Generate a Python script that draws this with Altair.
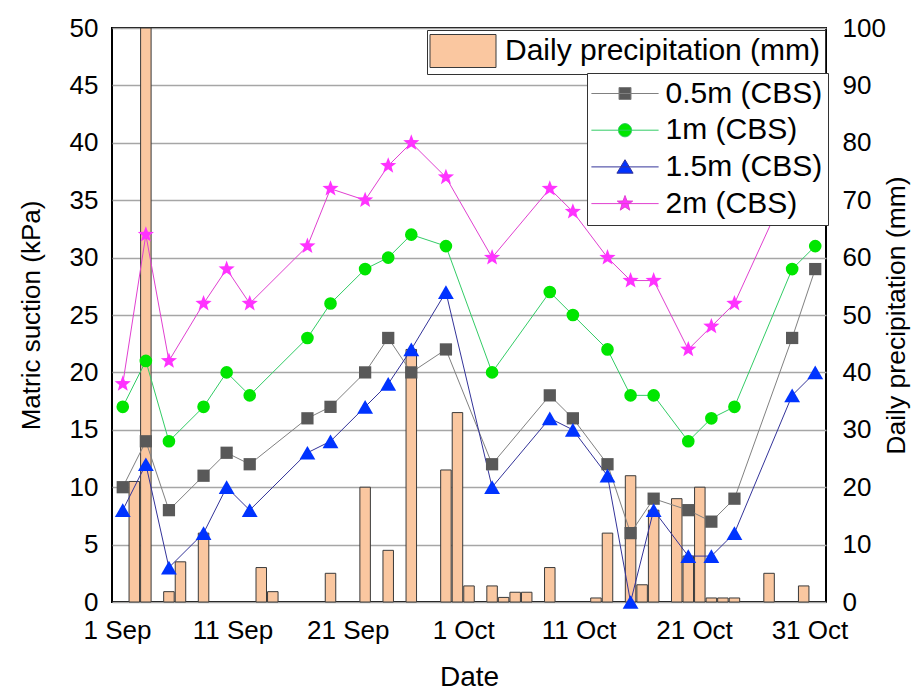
import json
import math

import altair as alt
import pandas as pd

START = pd.Timestamp("2019-09-01")

# Suction readings (kPa) at four depths
reading_dates = [
    "2019-09-01", "2019-09-03", "2019-09-05", "2019-09-08", "2019-09-10",
    "2019-09-12", "2019-09-17", "2019-09-19", "2019-09-22", "2019-09-24",
    "2019-09-26", "2019-09-29", "2019-10-03", "2019-10-08", "2019-10-10",
    "2019-10-13", "2019-10-15", "2019-10-17", "2019-10-20", "2019-10-22",
    "2019-10-24", "2019-10-29", "2019-10-31",
]
suction_05m = [10, 14, 8, 11, 13, 12, 16, 17, 20, 23, 20, 22, 12, 18, 16, 12, 6, 9, 8, 7, 9, 23, 29]
suction_1m = [17, 21, 14, 17, 20, 18, 23, 26, 29, 30, 32, 31, 20, 27, 25, 22, 18, 18, 14, 16, 17, 29, 31]
suction_15m = [8, 12, 3, 6, 10, 8, 13, 14, 17, 19, 22, 27, 10, 16, 15, 11, 0, 8, 4, 4, 6, 18, 20]
suction_2m = [19, 32, 21, 26, 29, 26, 31, 36, 35, 38, 40, 37, 30, 36, 34, 30, 28, 28, 22, 24, 26, 37, 40]
depth_names = ["0.5m (CBS)", "1m (CBS)", "1.5m (CBS)", "2m (CBS)"]

# Daily rainfall (mm)
rain_dates = [
    "2019-09-02", "2019-09-03", "2019-09-05", "2019-09-06", "2019-09-08",
    "2019-09-13", "2019-09-14", "2019-09-19", "2019-09-22", "2019-09-24",
    "2019-09-26", "2019-09-29", "2019-09-30", "2019-10-01", "2019-10-03",
    "2019-10-04", "2019-10-05", "2019-10-06", "2019-10-08", "2019-10-12",
    "2019-10-13", "2019-10-15", "2019-10-16", "2019-10-17", "2019-10-19",
    "2019-10-20", "2019-10-21", "2019-10-22", "2019-10-23", "2019-10-24",
    "2019-10-27", "2019-10-30",
]
rain_mm = [21, 100, 1.8, 7, 12, 6, 1.8, 5, 20, 9, 44, 23, 33, 2.8, 2.8,
           0.8, 1.7, 1.7, 6, 0.7, 12, 22, 3, 16, 18, 8, 20, 0.7, 0.7, 0.7, 5, 2.8]
rain_name = "Daily precipitation (mm)"

tick_days = [0, 10, 20, 30, 40, 50, 60]
tick_labels = ["1 Sep", "11 Sep", "21 Sep", "1 Oct", "11 Oct", "21 Oct", "31 Oct"]

line_colors = ["#808080", "#33CC66", "#333399", "#E040D0"]
marker_colors = ["#595959", "#00E600", "#0033FF", "#FF33FF"]
bar_fill = "#FAC7A0"
FONT = "Liberation Sans"


def midday(d):
    # each reading / daily total is centred on its own day
    return (pd.Timestamp(d) - START).days + 0.5


rows = []
for name, values in zip(depth_names, [suction_05m, suction_1m, suction_15m, suction_2m]):
    for d, v in zip(reading_dates, values):
        rows.append({"series": name, "t": midday(d), "kpa": v})
suction_df = pd.DataFrame(rows)
rain_df = pd.DataFrame({"t": [midday(d) for d in rain_dates], "mm": rain_mm, "kind": rain_name})


def star_path(R, r):
    pts = []
    for k in range(10):
        ang = math.radians(-90 + 36 * k)
        rad = R if k % 2 == 0 else r
        pts.append(f"{rad * math.cos(ang):.3f},{rad * math.sin(ang):.3f}")
    return "M" + "L".join(pts) + "Z"


STAR = star_path(1.0, 0.42)
marker_shapes = ["square", "circle", "triangle-up", STAR]
marker_sizes = [150, 160, 250, 290]

# legend glyphs: a horizontal line with the marker on it
LINE = "M-5.6,0H5.6 "
legend_shapes = [
    LINE + "M-1,-1H1V1H-1Z",
    LINE + "M-1.1,0A1.1,1.1,0,1,0,1.1,0A1.1,1.1,0,1,0,-1.1,0Z",
    LINE + "M0,-1.2L1.35,1.05H-1.35Z",
    LINE + star_path(1.35, 0.55),
]
# wide swatch for the rainfall entry
swatch = "M-2,-1H2V1H-2Z"

label_expr = f"{json.dumps(tick_labels)}[round(datum.value / 10)]"
x_enc = alt.X(
    "t:Q",
    scale=alt.Scale(domain=[0, 61], nice=False, zero=False),
    axis=alt.Axis(values=tick_days, labelExpr=label_expr, title="Date", grid=False, orient="bottom",
                  ticks=False, domain=False, labelFontSize=26, titleFontSize=28,
                  labelPadding=15, titlePadding=20, labelFlush=False, labelOverlap=False),
)
kpa_scale = alt.Scale(domain=[0, 50], nice=False)
y_left = alt.Y(
    "kpa:Q",
    scale=kpa_scale,
    axis=alt.Axis(values=list(range(0, 51, 5)), title="Matric suction (kPa)", grid=True, orient="left",
                  gridColor="#A6A6A6", gridWidth=1.5, ticks=False, domain=False,
                  labelFontSize=26, titleFontSize=26, labelPadding=14, titlePadding=25),
)
y_plain = alt.Y("kpa:Q", scale=kpa_scale, axis=None)
y_right = alt.Y(
    "mm:Q",
    scale=alt.Scale(domain=[0, 100], nice=False),
    axis=alt.Axis(orient="right", values=list(range(0, 101, 10)), title=rain_name, grid=False,
                  ticks=False, domain=False, labelFontSize=26, titleFontSize=26.5,
                  labelPadding=16, titlePadding=-2, titleAngle=270, titleBaseline="top"),
)

bars = alt.Chart(rain_df).mark_bar(size=10.5, stroke="#3A3A3A", strokeWidth=1).encode(
    x=x_enc,
    y=y_right,
    color=alt.Color(
        "kind:N",
        scale=alt.Scale(domain=[rain_name], range=[bar_fill]),
        legend=alt.Legend(title=None, orient="none", legendX=315, legendY=2,
                          symbolType=swatch, symbolSize=1089, symbolStrokeWidth=1,
                          symbolOffset=15, labelFontSize=30, labelOffset=25,
                          labelLimit=500, padding=4,
                          fillColor="white", strokeColor="#333333"),
    ),
)

line_layers = []
point_layers = []
for i, name in enumerate(depth_names):
    sub = suction_df[suction_df["series"] == name]
    line_layers.append(
        alt.Chart(sub).mark_line(color=line_colors[i], strokeWidth=1).encode(
            x=x_enc, y=y_left if i == 0 else y_plain, order="t:Q"
        )
    )
    point_layers.append(
        alt.Chart(sub).mark_point(filled=True, opacity=1, strokeWidth=0, color=marker_colors[i],
                                  shape=marker_shapes[i], size=marker_sizes[i]).encode(
            x=x_enc, y=y_plain
        )
    )

series_legend = alt.Legend(title=None, orient="none", legendX=475, legendY=45,
                           symbolSize=144, symbolStrokeWidth=1, symbolOffset=17.5,
                           labelFontSize=30, labelOffset=25.5, labelLimit=500,
                           rowPadding=6.7, padding=5.5,
                           fillColor="white", strokeColor="#333333")

legend_layer = alt.Chart(suction_df).transform_filter("false").mark_point(filled=True, opacity=1).encode(
    x=x_enc,
    y=y_plain,
    fill=alt.Fill("series:N", scale=alt.Scale(domain=depth_names, range=marker_colors), legend=series_legend),
    stroke=alt.Stroke("series:N", scale=alt.Scale(domain=depth_names, range=line_colors), legend=series_legend),
    shape=alt.Shape("series:N", scale=alt.Scale(domain=depth_names, range=legend_shapes), legend=series_legend),
)

chart = (
    alt.layer(bars, *line_layers, *point_layers, legend_layer)
    .resolve_scale(y="independent")
    .properties(width=714, height=574, autosize="none",
                padding={"left": 112, "top": 28, "right": 86, "bottom": 89})
    .configure(font=FONT)
    .configure_view(stroke="black", strokeWidth=2)
    .configure_axis(labelColor="black", titleColor="black", labelFont=FONT, titleFont=FONT,
                    titleFontWeight="normal")
    .configure_legend(labelColor="black", labelFont=FONT)
)

chart.save("out.html", embed_options={"renderer": "svg", "actions": False})
